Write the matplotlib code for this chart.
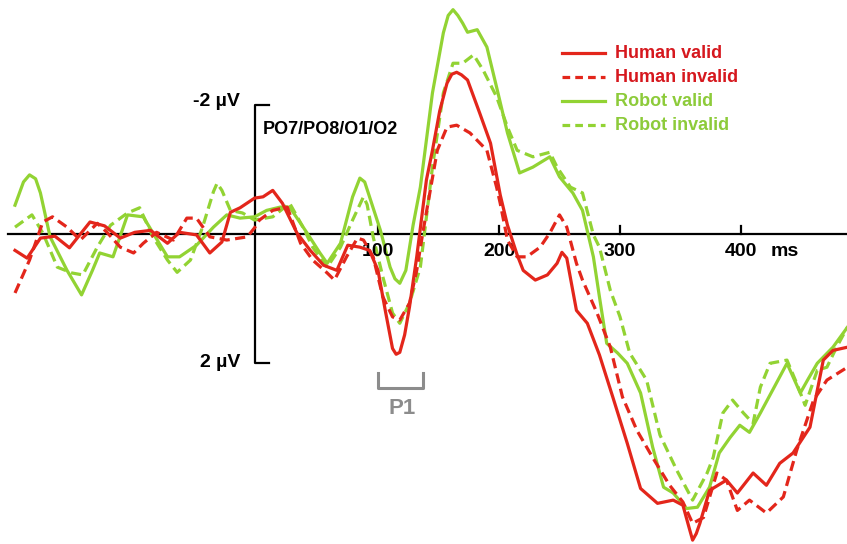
import matplotlib
matplotlib.use("Agg")
import matplotlib.pyplot as plt
import numpy as np

plt.rcParams['font.family'] = ['Liberation Sans', 'DejaVu Sans']

RED = '#E3261B'
GREEN = '#92D333'

# ERP traces, time in ms, amplitude in microvolts (negative up)
human_valid_t = [-200, -190, -179, -167, -155, -138, -126, -113, -101, -88, -74, -64, -50, -39, -29, -22, -14, -2,
                 5, 13, 21, 33, 44, 55, 66, 75, 85, 93, 100, 106, 112, 115, 118, 122, 126, 132, 140, 145, 151,
                 157, 161, 165, 169, 174, 184, 193, 201, 207, 215, 220, 230, 240, 248, 252, 256, 264, 273, 283,
                 294, 306, 317, 331, 344, 352, 357, 360, 363, 366, 374, 388, 397, 410, 421, 432, 443, 457, 468,
                 476, 488]
human_valid_v = [0.26, 0.38, 0.07, 0.04, 0.22, -0.18, -0.12, 0.07, -0.02, -0.05, 0.15, -0.02, 0.02, 0.30, 0.13,
                 -0.33, -0.40, -0.55, -0.57, -0.67, -0.47, -0.01, 0.26, 0.49, 0.57, 0.18, 0.21, 0.26, 0.57, 1.19,
                 1.78, 1.87, 1.84, 1.57, 1.14, 0.36, -0.83, -1.29, -1.90, -2.33, -2.47, -2.50, -2.46, -2.38,
                 -1.87, -1.40, -0.60, -0.13, 0.33, 0.57, 0.72, 0.64, 0.46, 0.29, 0.38, 1.19, 1.39, 1.88, 2.53,
                 3.25, 3.95, 4.18, 4.13, 4.21, 4.55, 4.75, 4.65, 4.49, 3.98, 3.82, 4.02, 3.71, 3.90, 3.56, 3.40,
                 3.00, 1.96, 1.81, 1.76]

human_invalid_t = [-200, -188, -177, -169, -157, -146, -132, -124, -113, -102, -94, -83, -69, -58, -50, -39, -25,
                   -8, -2, 2, 13, 25, 36, 46, 58, 64, 74, 83, 88, 96, 104, 112, 118, 126, 132, 137, 149, 157,
                   165, 176, 190, 198, 201, 207, 215, 223, 234, 242, 250, 256, 264, 269, 281, 292, 302, 314, 327,
                   341, 352, 360, 369, 380, 388, 397, 407, 421, 435, 446, 460, 471, 488]
human_invalid_v = [0.92, 0.41, -0.18, -0.26, -0.10, 0.10, -0.16, -0.02, 0.21, 0.30, 0.15, -0.02, 0.10, -0.24,
                   -0.24, 0.05, 0.10, 0.05, -0.09, -0.21, -0.36, -0.41, 0.15, 0.41, 0.61, 0.72, 0.36, 0.07, 0.10,
                   0.36, 0.98, 1.29, 1.34, 1.08, 0.57, -0.01, -1.29, -1.65, -1.68, -1.56, -1.29, -0.72, -0.47,
                   0.10, 0.36, 0.36, 0.21, -0.01, -0.29, -0.10, 0.46, 0.72, 1.23, 1.76, 2.53, 3.05, 3.47, 3.90,
                   4.16, 4.49, 4.40, 3.71, 3.82, 4.29, 4.13, 4.33, 4.08, 3.36, 2.58, 2.27, 2.07]

robot_valid_t = [-200, -193, -188, -183, -179, -171, -157, -145, -136, -130, -119, -107, -94, -86, -74, -64, -50,
                 -36, -25, -14, -2, 8, 19, 27, 41, 52, 58, 69, 79, 85, 89, 93, 102, 110, 114, 118, 123, 129, 135,
                 145, 154, 158, 162, 166, 170, 174, 182, 190, 198, 207, 217, 228, 242, 250, 261, 269, 278, 283,
                 289, 298, 306, 317, 327, 336, 344, 355, 364, 374, 382, 391, 399, 407, 416, 426, 438, 449, 455,
                 463, 476, 488]
robot_valid_v = [-0.44, -0.80, -0.91, -0.85, -0.63, 0.05, 0.57, 0.95, 0.57, 0.30, 0.36, -0.29, -0.26, -0.01,
                 0.36, 0.36, 0.18, -0.10, -0.29, -0.24, -0.26, -0.36, -0.41, -0.41, -0.02, 0.30, 0.46, 0.15,
                 -0.57, -0.86, -0.80, -0.57, -0.05, 0.52, 0.70, 0.77, 0.57, -0.13, -0.72, -2.18, -3.11, -3.38,
                 -3.47, -3.38, -3.26, -3.12, -3.16, -2.89, -2.27, -1.56, -0.94, -1.03, -1.19, -0.88, -0.63,
                 -0.36, 0.36, 0.98, 1.70, 1.85, 2.01, 2.47, 3.31, 3.93, 4.02, 4.26, 4.24, 3.93, 3.40, 3.16,
                 2.97, 3.08, 2.78, 2.43, 2.01, 2.47, 2.27, 2.01, 1.76, 1.45]

robot_invalid_t = [-200, -186, -177, -165, -153, -144, -132, -121, -107, -97, -86, -74, -66, -55, -45, -36, -33,
                   -29, -22, -12, -2, 13, 27, 38, 46, 58, 69, 79, 85, 88, 91, 96, 104, 112, 118, 126, 135, 145,
                   154, 162, 170, 179, 187, 198, 207, 215, 228, 242, 248, 259, 269, 278, 283, 292, 300, 308, 322,
                   333, 347, 360, 372, 377, 385, 393, 402, 410, 416, 424, 438, 446, 453, 463, 471, 479, 488]
robot_invalid_v = [-0.10, -0.29, -0.01, 0.52, 0.61, 0.64, 0.21, -0.13, -0.32, -0.40, 0.05, 0.41, 0.60, 0.41,
                   -0.10, -0.65, -0.78, -0.67, -0.36, -0.32, -0.21, -0.26, -0.47, -0.10, 0.21, 0.52, 0.21, -0.21,
                   -0.45, -0.57, -0.45, 0.05, 0.67, 1.23, 1.39, 1.08, 0.52, -1.03, -2.18, -2.64, -2.64, -2.77,
                   -2.53, -2.12, -1.65, -1.29, -1.19, -1.26, -1.03, -0.72, -0.63, 0.02, 0.21, 0.88, 1.29, 1.85,
                   2.27, 3.12, 3.67, 4.13, 3.71, 3.47, 2.78, 2.58, 2.78, 2.94, 2.38, 2.01, 1.96, 2.32, 2.66, 2.12,
                   2.07, 1.76, 1.45]

x_ticks = [100, 200, 300, 400]
legend_labels = ['Human valid', 'Human invalid', 'Robot valid', 'Robot invalid']

fig = plt.figure(figsize=(8.47, 5.44), dpi=100)
ax = fig.add_axes([0, 0, 1, 1])
ax.set_xlim(-212.4, 487.6)
ax.set_ylim(4.81, -3.62)
ax.axis('off')

lw = 2.3
dash = (3.2, 1.7)
kw = dict(solid_joinstyle='round', dash_joinstyle='round')
ax.plot(robot_valid_t, robot_valid_v, color=GREEN, lw=lw, zorder=3, **kw)
ax.plot(robot_invalid_t, robot_invalid_v, color=GREEN, lw=lw, dashes=dash, zorder=3, **kw)
ax.plot(human_valid_t, human_valid_v, color=RED, lw=lw, zorder=4, **kw)
ax.plot(human_invalid_t, human_invalid_v, color=RED, lw=lw, dashes=dash, zorder=4, **kw)

# axes drawn by hand
ax.plot([-206, 487.6], [0, 0], color='black', lw=1.6, zorder=2, clip_on=False)
ax.plot([10, -2, -2, 10], [-2, -2, 2, 2], color='black', lw=1.6, zorder=2)
for t in x_ticks:
    ax.plot([t, t], [0, -0.12], color='black', lw=1.6, zorder=2)
    ax.text(t, 0.28, str(t), ha='center', va='center', fontsize=14, fontweight='bold')
ax.text(436, 0.28, 'ms', ha='center', va='center', fontsize=14, fontweight='bold')
ax.text(-14, -2.05, '-2 µV', ha='right', va='center', fontsize=14, fontweight='bold')
ax.text(-14, 2.0, '2 µV', ha='right', va='center', fontsize=14, fontweight='bold')
ax.text(5, -1.62, 'PO7/PO8/O1/O2', ha='left', va='center', fontsize=13, fontweight='bold')

# P1 window
ax.plot([100, 100, 137, 137], [2.16, 2.40, 2.40, 2.16], color='#8C8C8C', lw=2.2)
ax.text(120, 2.71, 'P1', ha='center', va='center', fontsize=16, fontweight='bold', color='#8C8C8C')

# legend
styles = [(RED, '-'), (RED, '--'), (GREEN, '-'), (GREEN, '--')]
text_colors = ['#D6181E', '#D6181E', '#8DCB3A', '#8DCB3A']
for i, (lab, (c, ls)) in enumerate(zip(legend_labels, styles)):
    y = 1 - (53 + 24 * i) / 544
    if ls == '-':
        ax.plot([0.6635, 0.714], [y, y], color=c, lw=lw, transform=ax.transAxes)
    else:
        ax.plot([0.6635, 0.714], [y, y], color=c, lw=lw, dashes=(2.4, 1.6), transform=ax.transAxes)
    ax.text(0.726, y, lab, color=text_colors[i], fontsize=13, fontweight='bold',
            ha='left', va='center', transform=ax.transAxes)

fig.savefig('out.png', dpi=100)
